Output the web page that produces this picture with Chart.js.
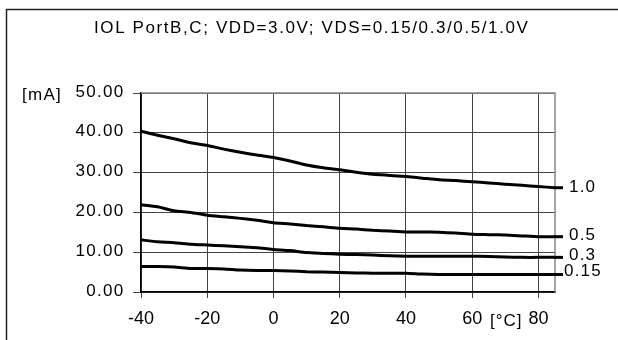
<!DOCTYPE html>
<html>
<head>
<meta charset="utf-8">
<script src="https://cdn.jsdelivr.net/npm/chart.js@4.4.1/dist/chart.umd.min.js"></script>
<style>
  body { margin: 0; background: #fff; }
  #wrap { width: 618px; height: 340px; position: relative; }
</style>
</head>
<body>
<div id="wrap"><canvas id="iolChart"></canvas></div>
<script>
// temperature steps [°C]
const temps = [-40, -35, -30, -25, -20, -15, -10, -5, 0, 5, 10, 15, 20, 25, 30, 35, 40, 45, 50, 55, 60, 65, 70, 75, 80, 85];

// IOL [mA] per VDS
const vds100 = [40.4, 39.4, 38.5, 37.5, 36.8, 35.9, 35.1, 34.4, 33.8, 32.9, 31.9, 31.2, 30.7, 30.1, 29.6, 29.3, 29.0, 28.6, 28.2, 28.0, 27.7, 27.4, 27.1, 26.8, 26.5, 26.2];
const vds050 = [21.9, 21.4, 20.4, 20.0, 19.3, 18.9, 18.5, 18.0, 17.4, 17.1, 16.7, 16.4, 16.0, 15.8, 15.5, 15.3, 15.1, 15.1, 15.0, 14.8, 14.5, 14.4, 14.3, 14.1, 13.9, 13.9];
const vds030 = [13.1, 12.6, 12.4, 12.0, 11.8, 11.6, 11.4, 11.1, 10.7, 10.4, 9.9, 9.7, 9.5, 9.4, 9.3, 9.1, 9.0, 9.0, 9.0, 9.0, 9.0, 8.9, 8.8, 8.7, 8.7, 8.7];
const vds015 = [6.4, 6.4, 6.3, 5.9, 5.9, 5.8, 5.5, 5.4, 5.4, 5.3, 5.1, 5.0, 4.9, 4.8, 4.7, 4.7, 4.7, 4.5, 4.4, 4.4, 4.4, 4.4, 4.4, 4.4, 4.4, 4.4];

const seriesNames = ['1.0', '0.5', '0.3', '0.15'];
const seriesValues = [vds100, vds050, vds030, vds015];

const titleText = 'IOL PortB,C; VDD=3.0V; VDS=0.15/0.3/0.5/1.0V';
const yUnit = '[mA]';
const xUnit = '[°C]';

const FONT = '"Liberation Sans", Arial, sans-serif';

// small vertical nudges so the end labels don't collide
const labelNudge = [0, -1.5, -2.3, -3.2];
const labelShift = [0, 0, 0, -5];

const decorPlugin = {
    id: 'decor',
    afterDraw(chart) {
        const ctx = chart.ctx;
        const area = chart.chartArea;
        const y = chart.scales.y;
        ctx.save();

        // outer frame (cut off at right and bottom)
        ctx.strokeStyle = '#222';
        ctx.lineWidth = 1.5;
        ctx.beginPath();
        ctx.moveTo(6.5, 340);
        ctx.lineTo(6.5, 9.5);
        ctx.lineTo(618, 9.5);
        ctx.stroke();

        // plot frame top/right
        ctx.strokeStyle = '#888';
        ctx.lineWidth = 1.5;
        ctx.beginPath();
        ctx.moveTo(area.left, area.top);
        ctx.lineTo(area.right, area.top);
        ctx.lineTo(area.right, area.bottom);
        ctx.stroke();

        ctx.fillStyle = '#000';
        ctx.textBaseline = 'middle';

        // title
        ctx.textAlign = 'left';
        ctx.font = '17px ' + FONT;
        ctx.letterSpacing = '1.6px';
        ctx.fillText(titleText, 94, 28.5);

        // y tick labels (wide spacing like the original)
        ctx.font = '17px ' + FONT;
        ctx.letterSpacing = '1.3px';
        ctx.textAlign = 'right';
        y.ticks.forEach(t => {
            ctx.fillText(t.value.toFixed(2), 124.5, y.getPixelForValue(t.value) - 1);
        });

        ctx.textAlign = 'left';
        ctx.fillText(yUnit, 22, 95);

        ctx.letterSpacing = '1px';
        ctx.fillText(xUnit, 490, 321.5);

        // series end labels with leader lines
        ctx.strokeStyle = '#000';
        ctx.lineWidth = 3;
        ctx.letterSpacing = '1.2px';
        seriesValues.forEach((vals, i) => {
            const py = y.getPixelForValue(vals[vals.length - 1]);
            ctx.beginPath();
            ctx.moveTo(area.right - 1, py);
            ctx.lineTo(area.right + 8, py);
            ctx.stroke();
            ctx.fillText(seriesNames[i], area.right + 14 + labelShift[i], py + labelNudge[i]);
        });
        ctx.restore();
    }
};

new Chart(document.getElementById('iolChart').getContext('2d'), {
    type: 'line',
    data: {
        datasets: seriesValues.map((vals, i) => ({
            label: seriesNames[i],
            data: temps.map((t, j) => ({ x: t, y: vals[j] })),
            borderColor: '#000',
            borderWidth: 3,
            pointRadius: 0,
            tension: 0.2,
            fill: false
        }))
    },
    options: {
        responsive: true,
        maintainAspectRatio: false,
        animation: false,
        layout: { padding: { top: 93, right: 63, left: 0, bottom: 0 } },
        plugins: {
            legend: { display: false },
            title: { display: false },
            tooltip: { enabled: false }
        },
        scales: {
            x: {
                type: 'linear',
                min: -40,
                max: 85,
                afterFit: s => { s.height = 48; },
                ticks: {
                    stepSize: 20,
                    includeBounds: false,
                    color: '#000',
                    padding: 10,
                    font: { family: FONT, size: 18 },
                    maxRotation: 0
                },
                grid: { color: '#444', lineWidth: 1, tickLength: 6 },
                border: { color: '#000', width: 1.5 }
            },
            y: {
                min: 0,
                max: 50,
                afterFit: s => { s.width = 141; },
                ticks: {
                    stepSize: 10,
                    display: false
                },
                grid: { color: '#444', lineWidth: 1, tickLength: 8 },
                border: { color: '#000', width: 1.5 }
            }
        }
    },
    plugins: [decorPlugin]
});
</script>
</body>
</html>
